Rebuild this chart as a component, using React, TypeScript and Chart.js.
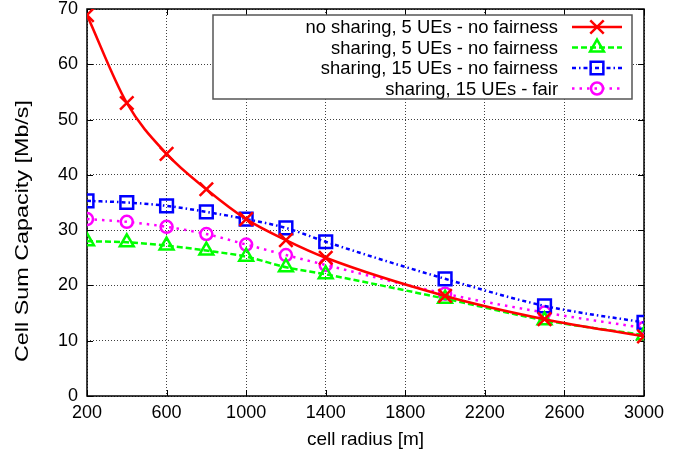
import React, { useEffect, useRef } from "react";
import { Chart, registerables } from "chart.js";
import { drawPoint } from "chart.js/helpers";

Chart.register(...registerables);

const radii = [200, 400, 600, 800, 1000, 1200, 1400, 2000, 2500, 3000];
const noSharing5 = [68.9, 53.0, 43.8, 37.4, 32.0, 28.2, 25.0, 18.1, 13.9, 10.8];
const sharing5 = [28.0, 27.8, 27.2, 26.3, 25.2, 23.3, 22.0, 17.6, 13.7, 11.0];
const sharing15 = [35.3, 35.0, 34.4, 33.3, 32.0, 30.4, 27.9, 21.2, 16.3, 13.3];
const sharing15Fair = [32.0, 31.5, 30.6, 29.3, 27.4, 25.5, 23.7, 18.5, 15.1, 12.3];
const seriesLabels = [
  "no sharing, 5 UEs - no fairness",
  "sharing, 5 UEs - no fairness",
  "sharing, 15 UEs - no fairness",
  "sharing, 15 UEs - fair",
];
const xTitle = "cell radius [m]";
const yTitle = "Cell Sum Capacity [Mb/s]";

const FONT = '"Liberation Sans", Arial, Helvetica, sans-serif';

const frameAndLegend = {
  id: "frameAndLegend",
  beforeDatasetsDraw(chart: any) {
    const { ctx, chartArea: a, scales } = chart;
    ctx.save();
    ctx.strokeStyle = "#000";
    ctx.lineWidth = 1;
    ctx.setLineDash([]);
    const tl = 6;
    ctx.beginPath();
    for (const t of scales.x.ticks) {
      const px = Math.round(scales.x.getPixelForValue(t.value)) + 0.5;
      ctx.moveTo(px, a.bottom);
      ctx.lineTo(px, a.bottom - tl);
      ctx.moveTo(px, a.top);
      ctx.lineTo(px, a.top + tl);
    }
    for (const t of scales.y.ticks) {
      const py = Math.round(scales.y.getPixelForValue(t.value)) + 0.5;
      ctx.moveTo(a.left, py);
      ctx.lineTo(a.left + tl, py);
      ctx.moveTo(a.right, py);
      ctx.lineTo(a.right - tl, py);
    }
    ctx.stroke();
    ctx.lineWidth = 1.5;
    ctx.strokeRect(a.left, a.top, a.right - a.left, a.bottom - a.top);

    // y axis title (stretched to the reference length)
    ctx.font = `18px ${FONT}`;
    const w = ctx.measureText(yTitle).width;
    ctx.translate(23, 231);
    ctx.rotate(-Math.PI / 2);
    ctx.scale(262 / w, 1);
    ctx.fillStyle = "#000";
    ctx.textAlign = "center";
    ctx.textBaseline = "middle";
    ctx.fillText(yTitle, 0, 0);
    ctx.restore();
  },
  afterDatasetsDraw(chart: any) {
    const { ctx } = chart;
    const datasets = chart.data.datasets;
    const bx = 213, by = 15, bw = 419, bh = 84;
    ctx.save();
    ctx.fillStyle = "#fff";
    ctx.fillRect(bx, by, bw, bh);
    ctx.strokeStyle = "#555";
    ctx.lineWidth = 1.5;
    ctx.setLineDash([]);
    ctx.strokeRect(bx, by, bw, bh);
    ctx.font = `18.4px ${FONT}`;
    ctx.textAlign = "right";
    ctx.textBaseline = "middle";
    datasets.forEach((ds: any, i: number) => {
      const y = 27 + i * 20.5;
      ctx.fillStyle = "#000";
      ctx.fillText(ds.label, 558, y + 1);
      ctx.strokeStyle = ds.borderColor;
      ctx.lineWidth = ds.borderWidth;
      ctx.setLineDash(ds.borderDash || []);
      ctx.beginPath();
      ctx.moveTo(572, y);
      ctx.lineTo(622, y);
      ctx.stroke();
      ctx.setLineDash([]);
      ctx.lineWidth = ds.pointBorderWidth;
      ctx.fillStyle = "rgba(0,0,0,0)";
      drawPoint(ctx, { pointStyle: ds.pointStyle, radius: ds.pointRadius, rotation: 0, borderWidth: ds.pointBorderWidth }, 597, y);
    });
    ctx.restore();
  },
};

export default function App() {
  const ref = useRef<HTMLCanvasElement | null>(null);
  useEffect(() => {
    if (!ref.current) return;
    const mk = (values: number[]) => radii.map((r, i) => ({ x: r, y: values[i] }));
    const chart = new Chart(ref.current, {
      type: "line",
      data: {
        datasets: [
          {
            label: seriesLabels[0],
            data: mk(noSharing5),
            borderColor: "#ff0000",
            borderWidth: 2.5,
            pointStyle: "crossRot",
            pointRadius: 9.5,
            pointBorderWidth: 2.5,
            pointBackgroundColor: "rgba(0,0,0,0)",
            cubicInterpolationMode: "monotone",
          },
          {
            label: seriesLabels[1],
            data: mk(sharing5),
            borderColor: "#00ff00",
            borderWidth: 2.5,
            borderDash: [6, 3],
            pointStyle: "triangle",
            pointRadius: 8,
            pointBorderWidth: 2.5,
            pointBackgroundColor: "rgba(0,0,0,0)",
            cubicInterpolationMode: "monotone",
          },
          {
            label: seriesLabels[2],
            data: mk(sharing15),
            borderColor: "#0000ff",
            borderWidth: 2.5,
            borderDash: [4, 3, 1.5, 3],
            pointStyle: "rect",
            pointRadius: 9,
            pointBorderWidth: 2.5,
            pointBackgroundColor: "rgba(0,0,0,0)",
            cubicInterpolationMode: "monotone",
          },
          {
            label: seriesLabels[3],
            data: mk(sharing15Fair),
            borderColor: "#ff00ff",
            borderWidth: 2.5,
            borderDash: [2.5, 5],
            pointStyle: "circle",
            pointRadius: 6,
            pointBorderWidth: 2.5,
            pointBackgroundColor: "rgba(0,0,0,0)",
            cubicInterpolationMode: "monotone",
          },
        ],
      },
      options: {
        animation: false,
        responsive: false,
        maintainAspectRatio: false,
        layout: { padding: { top: 9, right: 48, left: 0, bottom: 0 }, autoPadding: false },
        plugins: { legend: { display: false }, tooltip: { enabled: false } },
        scales: {
          x: {
            type: "linear",
            min: 200,
            max: 3000,
            ticks: {
              stepSize: 400,
              padding: 6,
              color: "#000",
              font: { family: FONT, size: 18 },
              callback: (v: any) => String(v),
            },
            grid: { drawTicks: false, color: "rgba(0,0,0,0.75)", lineWidth: 1 },
            border: { display: false, dash: [1, 2] },
            title: { display: true, text: xTitle, color: "#000", font: { family: FONT, size: 19 }, padding: { top: 0, bottom: 7 } },
            afterFit(scale: any) {
              scale.height = 62;
              scale.paddingLeft = 0;
              scale.paddingRight = 0;
            },
          },
          y: {
            min: 0,
            max: 70,
            ticks: {
              stepSize: 10,
              padding: 9,
              color: "#000",
              font: { family: FONT, size: 18 },
              callback: (v: any) => String(v),
            },
            grid: { drawTicks: false, color: "rgba(0,0,0,0.75)", lineWidth: 1 },
            border: { display: false, dash: [1, 2] },
            title: { display: false },
            afterFit(scale: any) {
              scale.width = 87;
              scale.paddingTop = 0;
              scale.paddingBottom = 0;
            },
          },
        },
      } as any,
      plugins: [frameAndLegend],
    });
    return () => chart.destroy();
  }, []);
  return (
    <div style={{ position: "absolute", left: 0, top: 0, width: 692, height: 458, background: "#fff" }}>
      <canvas ref={ref} width={692} height={458} style={{ display: "block", width: 692, height: 458 }} />
    </div>
  );
}
